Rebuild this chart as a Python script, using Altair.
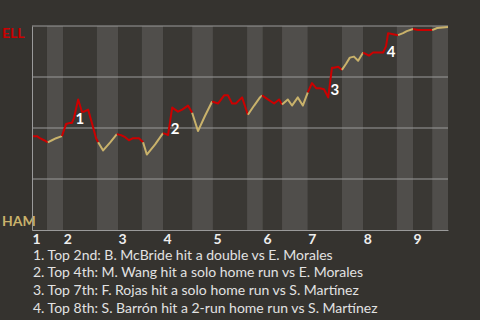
import altair as alt
import pandas as pd

# ---- data ----
# half-inning index (0 = top 1st, 1 = bottom 1st, ...), game progress (0-100), ELL win probability (%)
half_inning = ([0] * 5 + [1] * 4 + [2] * 12 + [3] * 4 + [4] * 7 + [5] * 4 + [6] * 8 + [7] * 4 +
               [8] * 8 + [9] * 4 + [10] * 5 + [11] * 6 + [12] * 10 + [13] * 6 + [14] * 8 +
               [15] * 4 + [16] * 3 + [17] * 3)
progress = [
    0, 1.2, 1.9, 2.9, 3.8,
    3.8, 4.8, 5.8, 7.2,
    7.2, 8.2, 9.1, 9.6, 10.1, 11.1, 12.0, 12.5, 13.5, 14.4, 15.4, 15.9,
    15.9, 17.1, 18.8, 20.4,
    20.4, 21.4, 22.4, 23.3, 24.3, 25.7, 26.7,
    26.7, 27.6, 29.6, 31.5,
    31.5, 32.2, 32.7, 33.7, 35.1, 36.1, 37.5, 38.5,
    38.5, 39.9, 41.6, 43.3,
    43.3, 44.7, 46.2, 47.1, 48.1, 49.0, 50.5, 51.9,
    51.9, 53.4, 54.8, 55.3,
    55.3, 56.7, 58.2, 59.4, 60.1,
    60.1, 61.5, 62.5, 63.9, 65.1, 66.3,
    66.3, 67.3, 68.3, 69.2, 70.2, 71.2, 72.1, 72.6, 73.6, 74.5,
    74.5, 75.5, 76.4, 77.4, 78.4, 79.6,
    79.6, 81.0, 82.0, 84.4, 85.1, 85.6, 86.8, 88.0,
    88.0, 89.2, 90.1, 91.6,
    91.6, 92.8, 96.2,
    96.2, 97.4, 100,
]
win_prob = [
    46, 46, 45, 44, 43,
    43, 44, 45, 46,
    46, 52, 52.5, 52.5, 55, 64, 58, 58, 59, 52.5, 45, 43,
    43, 39, 43, 47,
    47, 46.5, 45.5, 44, 45, 45, 43,
    43, 37, 42, 47.5,
    47.5, 47, 46.5, 60, 58, 59, 61, 57.5,
    57.5, 48.5, 56, 63,
    63, 62, 66, 66, 62, 62, 65, 56.5,
    56.5, 61, 65, 66,
    66, 64, 62, 64, 61.5,
    61.5, 64, 61, 65, 61, 67.5,
    67.5, 72, 69.5, 69.5, 69, 65, 79.5, 79.5, 80, 78.5,
    78.5, 81.5, 84.5, 85, 83, 87,
    87, 85.5, 87, 87, 90, 96.5, 96, 95.5,
    95.5, 96.5, 97.5, 98.5,
    98.5, 98, 98,
    98, 99, 99.5,
]

band_edges = [0, 3.6, 7.5, 15.6, 20.7, 26.4, 31.5, 38.5, 43.5, 51.7, 55.5,
              60.1, 66.3, 74.5, 79.6, 87.7, 91.6, 96.2, 100]
inning_starts = band_edges[0::2][:9]

event_ids = ["1", "2", "3", "4"]
event_progress = [11.5, 34.4, 72.8, 86.3]
event_wp = [54.4, 49.5, 68.6, 87.3]

event_lines = [
    "1. Top 2nd: B. McBride hit a double vs E. Morales",
    "2. Top 4th: M. Wang hit a solo home run vs E. Morales",
    "3. Top 7th: F. Rojas hit a solo home run vs S. Martínez",
    "4. Top 8th: S. Barrón hit a 2-run home run vs S. Martínez",
]
grid_levels = [25, 50, 75, 100]

# ---- styling ----
BG = "#35332f"
DARK = "#3a3834"
LIGHT = "#504e4b"
RED = "#cc0000"
GOLD = "#c9b26b"
GRID = "#9a9a9a"
FONT = "Lato"

line_df = pd.DataFrame({
    "half": half_inning,
    "x": progress,
    "wp": win_prob,
    "team": ["ELL" if h % 2 == 0 else "HAM" for h in half_inning],
})
band_df = pd.DataFrame({
    "x": band_edges[:-1],
    "x2": band_edges[1:],
    "part": ["top" if i % 2 == 0 else "bottom" for i in range(len(band_edges) - 1)],
})
event_df = pd.DataFrame({"id": event_ids, "x": event_progress, "wp": event_wp})
grid_df = pd.DataFrame({"wp": grid_levels})
one = pd.DataFrame({"a": [0]})

xscale = alt.Scale(domain=[0, 100], nice=False, zero=False)
yscale = alt.Scale(domain=[0, 100], nice=False, zero=False)

label_expr = "indexof([" + ",".join(str(v) for v in inning_starts) + "], datum.value) + 1"

bands = alt.Chart(band_df).mark_rect().encode(
    x=alt.X("x:Q", scale=xscale, axis=alt.Axis(
        values=inning_starts, labelExpr=label_expr, ticks=False, grid=False, title=None,
        domainColor=GRID, domainWidth=1, labelColor="#eeeeee", labelFont=FONT,
        labelFontSize=14, labelFontWeight="bold", labelAlign="left", labelPadding=2,
        labelFlush=False, labelOverlap=False, zindex=1)),
    x2="x2:Q",
    fill=alt.Fill("part:N", scale=alt.Scale(domain=["top", "bottom"], range=[DARK, LIGHT]),
                  legend=None),
)

grid = alt.Chart(grid_df).mark_rule(color=GRID, strokeWidth=1).encode(
    y=alt.Y("wp:Q", scale=yscale)
)

line = alt.Chart(line_df).mark_line(strokeWidth=2, strokeJoin="round").encode(
    x=alt.X("x:Q", scale=xscale),
    y=alt.Y("wp:Q", scale=yscale, axis=alt.Axis(
        labels=False, ticks=False, grid=False, title=None, domainColor=GRID, zindex=1)),
    stroke=alt.Stroke("team:N", scale=alt.Scale(domain=["ELL", "HAM"], range=[RED, GOLD]),
                      legend=None),
    detail="half:N",
    order="x:Q",
)

events = alt.Chart(event_df).mark_text(
    font=FONT, fontSize=15, fontWeight="bold", color="#ffffff", align="center", baseline="middle"
).encode(
    x=alt.X("x:Q", scale=xscale),
    y=alt.Y("wp:Q", scale=yscale),
    text="id:N",
)

ell = alt.Chart(one).mark_text(
    font=FONT, fontSize=14, fontWeight="bold", color=RED, align="left", baseline="alphabetic"
).encode(x=alt.value(-30), y=alt.value(12), text=alt.value("ELL"))

ham = alt.Chart(one).mark_text(
    font=FONT, fontSize=14, fontWeight="bold", color=GOLD, align="left", baseline="alphabetic"
).encode(x=alt.value(-30), y=alt.value(200), text=alt.value("HAM"))

notes = alt.Chart(one).mark_text(
    font=FONT, fontSize=14, color="#e2e2e2", align="left", baseline="alphabetic",
    lineHeight=17.8
).encode(x=alt.value(1), y=alt.value(233.5), text=alt.value(event_lines))

chart = alt.layer(bands, grid, line, events, ell, ham, notes).resolve_scale(
    color="independent"
).properties(
    width=416, height=204,
    background=BG,
    padding={"left": 32, "top": 26, "right": 32, "bottom": 90},
    autosize=alt.AutoSizeParams(type="none"),
).configure_view(stroke=None)

chart.save("out.html", embed_options={"renderer": "svg", "actions": False})
